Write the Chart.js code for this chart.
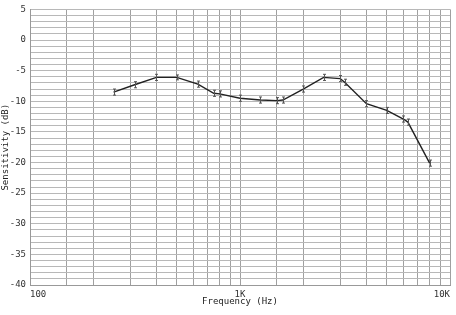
<!DOCTYPE html>
<html lang="en">
<head>
  <meta charset="UTF-8">
  <title>Sensitivity vs Frequency</title>
  <script src="https://cdn.jsdelivr.net/npm/chart.js"></script>
  <style>
    body {
      margin: 0;
      background: #fff;
    }
    #wrap {
      width: 456px;
      height: 315px;
    }
  </style>
</head>
<body>

<div id="wrap"><canvas id="sensChart"></canvas></div>

<script>
  // measured points (Hz, dB) and error half-widths
  const freqs = [250, 315, 400, 500, 630, 750, 800, 1000, 1250, 1500, 1600, 2000, 2500, 3000, 3150, 4000, 5000, 6000, 6300, 8000];
  const sens = [-8.5, -7.3, -6.1, -6.1, -7.2, -8.7, -8.8, -9.5, -9.8, -9.9, -9.8, -8.0, -6.1, -6.3, -6.9, -10.4, -11.5, -12.9, -13.4, -20.1];
  const errs = [0.5, 0.5, 0.5, 0.4, 0.5, 0.5, 0.5, 0.5, 0.5, 0.5, 0.5, 0.5, 0.5, 0.5, 0.5, 0.5, 0.5, 0.5, 0.5, 0.5];

  // x grid positions and labelled ticks
  const xGrid = [100, 150, 200, 300, 400, 500, 600, 700, 800, 900,
                 1000, 1500, 2000, 3000, 4000, 5000, 6000, 7000, 8000, 9000, 10000];
  const xLabels = { 100: '100', 1000: '1K', 10000: '10K' };

  const monoFont = { family: "'DejaVu Sans Mono', monospace", size: 9 };

  // draws the little error bars using the chart's own scales
  const errorBars = {
    id: 'errorBars',
    afterDatasetsDraw(chart) {
      const ctx = chart.ctx;
      const xs = chart.scales.x, ys = chart.scales.y;
      ctx.save();
      ctx.strokeStyle = '#555';
      ctx.lineWidth = 1;
      freqs.forEach((f, i) => {
        const x = Math.round(xs.getPixelForValue(f)) + 0.5;
        const yTop = ys.getPixelForValue(sens[i] + errs[i]);
        const yBot = ys.getPixelForValue(sens[i] - errs[i]);
        ctx.beginPath();
        ctx.moveTo(x, yTop); ctx.lineTo(x, yBot);
        ctx.moveTo(x - 1.5, yTop); ctx.lineTo(x + 1.5, yTop);
        ctx.moveTo(x - 1.5, yBot); ctx.lineTo(x + 1.5, yBot);
        ctx.stroke();
      });
      ctx.restore();
    }
  };

  new Chart(document.getElementById('sensChart'), {
    type: 'line',
    data: {
      datasets: [{
        data: freqs.map((f, i) => ({ x: f, y: sens[i] })),
        borderColor: '#222',
        borderWidth: 1.4,
        pointRadius: 0,
        tension: 0,
        fill: false
      }]
    },
    options: {
      responsive: true,
      maintainAspectRatio: false,
      animation: false,
      layout: { padding: { top: 6, right: 6, bottom: 8, left: 0 } },
      plugins: {
        legend: { display: false },
        tooltip: { enabled: false }
      },
      scales: {
        x: {
          type: 'logarithmic',
          min: 100,
          max: 10000,
          afterBuildTicks: s => { s.ticks = xGrid.map(v => ({ value: v })); },
          afterFit: s => { s.height = 22; },
          grid: { color: '#a0a0a0', drawTicks: false },
          border: { color: '#999' },
          ticks: {
            autoSkip: false,
            maxRotation: 0,
            align: 'inner',
            padding: 4,
            color: '#333',
            font: monoFont,
            callback: v => xLabels[v] || ''
          },
          title: {
            display: true,
            text: 'Frequency (Hz)',
            color: '#222',
            font: monoFont,
            padding: { top: 0, bottom: 0 }
          }
        },
        y: {
          min: -40,
          max: 5,
          afterFit: s => { s.width = 30; },
          grid: { color: '#b8b8b8', drawTicks: false },
          border: { color: '#999' },
          ticks: {
            stepSize: 1,
            autoSkip: false,
            padding: 4,
            color: '#333',
            font: monoFont,
            callback: v => (v % 5 === 0 ? String(v) : '')
          },
          title: {
            display: true,
            text: 'Sensitivity (dB)',
            color: '#222',
            font: monoFont,
            padding: { top: 0, bottom: 0 }
          }
        }
      }
    },
    plugins: [errorBars]
  });
</script>

</body>
</html>
